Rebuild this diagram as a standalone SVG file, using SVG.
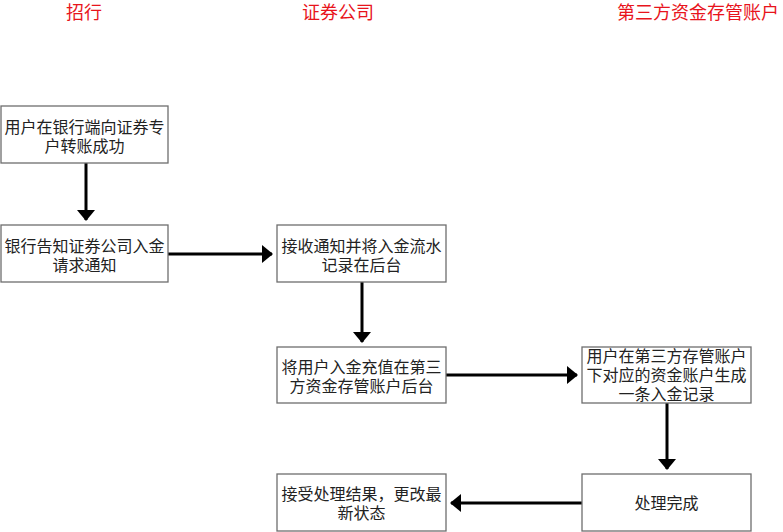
<svg xmlns="http://www.w3.org/2000/svg" width="783" height="532" viewBox="0 0 783 532">
<style>
.box{fill:#fff;stroke:#6e6e6e;stroke-width:1.3}
.t{font-family:"Noto Sans CJK SC","Noto Sans",sans-serif;font-size:16px;fill:#222;text-anchor:middle}
.h{font-family:"Noto Sans CJK SC","Noto Sans",sans-serif;font-size:18px;fill:#e8141c;text-anchor:middle}
.c{fill:none;stroke:#000;stroke-width:3}
</style>
<defs>
<marker id="ah" markerUnits="userSpaceOnUse" markerWidth="12" markerHeight="18" refX="10" refY="9" orient="auto" viewBox="0 0 12 18">
<path d="M0,0 L11,9 L0,18 z" fill="#000"/>
</marker>
</defs>
<rect width="783" height="532" fill="#fff"/>
<g id="titles">
<text class="h" x="84" y="19">招行</text>
<text class="h" x="338" y="19">证券公司</text>
<text class="h" x="698" y="19">第三方资金存管账户</text>
</g>
<g id="connectors">
<line class="c" x1="86" y1="163" x2="86" y2="220" marker-end="url(#ah)"/>
<line class="c" x1="168" y1="254" x2="272" y2="254" marker-end="url(#ah)"/>
<line class="c" x1="362" y1="282" x2="362" y2="342" marker-end="url(#ah)"/>
<line class="c" x1="446" y1="375" x2="577" y2="375" marker-end="url(#ah)"/>
<line class="c" x1="667" y1="403" x2="667" y2="469" marker-end="url(#ah)"/>
<line class="c" x1="582" y1="503" x2="451" y2="503" marker-end="url(#ah)"/>
</g>
<g id="n1"><rect class="box" x="1" y="106" width="167" height="57"/>
<text class="t" x="84.5" y="133">用户在银行端向证券专</text><text class="t" x="84.5" y="152">户转账成功</text></g>
<g id="n2"><rect class="box" x="1" y="225" width="167" height="57"/>
<text class="t" x="84.5" y="252">银行告知证券公司入金</text><text class="t" x="84.5" y="271">请求通知</text></g>
<g id="n3"><rect class="box" x="277" y="225" width="169" height="57"/>
<text class="t" x="361.5" y="252">接收通知并将入金流水</text><text class="t" x="361.5" y="271">记录在后台</text></g>
<g id="n4"><rect class="box" x="277" y="347" width="169" height="56"/>
<text class="t" x="361.5" y="373">将用户入金充值在第三</text><text class="t" x="361.5" y="392">方资金存管账户后台</text></g>
<g id="n5"><rect class="box" x="582" y="347" width="169" height="56"/>
<text class="t" x="666.5" y="362">用户在第三方存管账户</text><text class="t" x="666.5" y="381">下对应的资金账户生成</text><text class="t" x="666.5" y="400">一条入金记录</text></g>
<g id="n6"><rect class="box" x="582" y="474" width="169" height="57"/>
<text class="t" x="666.5" y="509">处理完成</text></g>
<g id="n7"><rect class="box" x="277" y="474" width="169" height="57"/>
<text class="t" x="361.5" y="500">接受处理结果，更改最</text><text class="t" x="361.5" y="519">新状态</text></g>
</svg>
